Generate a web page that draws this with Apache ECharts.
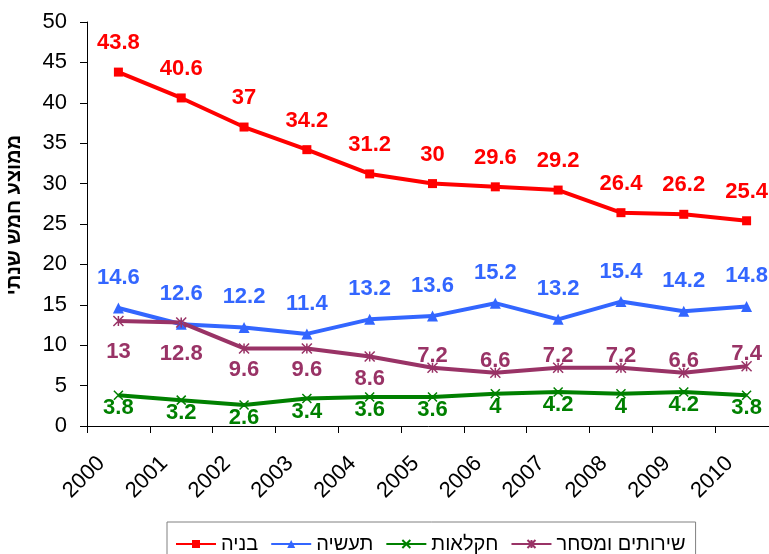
<!DOCTYPE html>
<html>
<head>
<meta charset="utf-8">
<script src="https://cdn.jsdelivr.net/npm/echarts@6/dist/echarts.min.js"></script>
<style>
  html, body { margin: 0; padding: 0; background: #fff; }
  #chart { width: 769px; height: 554px; }
</style>
</head>
<body>
<div id="chart"></div>
<script>
// years on the x axis
const years = ['2000', '2001', '2002', '2003', '2004', '2005', '2006', '2007', '2008', '2009', '2010'];

// five-year averages per sector
const construction = [43.8, 40.6, 37, 34.2, 31.2, 30, 29.6, 29.2, 26.4, 26.2, 25.4];
const industry = [14.6, 12.6, 12.2, 11.4, 13.2, 13.6, 15.2, 13.2, 15.4, 14.2, 14.8];
const agriculture = [3.8, 3.2, 2.6, 3.4, 3.6, 3.6, 4, 4.2, 4, 4.2, 3.8];
const services = [13, 12.8, 9.6, 9.6, 8.6, 7.2, 6.6, 7.2, 7.2, 6.6, 7.4];

const seriesNames = ['בניה', 'תעשיה', 'חקלאות', 'שירותים ומסחר'];
const yTitle = 'ממוצע חמש שנתי';

const FONT = "'Liberation Sans', Arial, sans-serif";

const chart = echarts.init(document.getElementById('chart'));

// label styling shared by all series
const label = (color, dy) => ({
    show: true,
    position: 'inside',
    offset: [0, dy],
    color: color,
    fontFamily: FONT,
    fontSize: 22,
    fontWeight: 'bold'
});

const lineSeries = (name, values, color, symbol, size, dy, extra) => Object.assign({
    name: name,
    type: 'line',
    data: values,
    symbol: symbol,
    symbolSize: size,
    showAllSymbol: true,
    lineStyle: { color: color, width: 4 },
    itemStyle: { color: color },
    label: label(color, dy),
    emphasis: { disabled: true }
}, extra || {});

// services labels: below for the first years, above later
const servicesData = services.map((v, i) => ({
    value: v,
    label: { offset: [0, i < 2 ? 31 : (i < 5 ? 22 : -12)] }
}));

const option = {
    animation: false,
    textStyle: { fontFamily: FONT },
    grid: {
        left: 87,
        top: 22,
        width: 691,
        height: 404,
        outerBoundsMode: 'none'
    },
    legend: {
        data: seriesNames,
        left: 167,
        top: 522,
        padding: [12, 10, 12, 8],
        itemWidth: 40,
        itemHeight: 10,
        itemGap: 12,
        borderColor: '#808080',
        borderWidth: 1,
        textStyle: { fontFamily: FONT, fontSize: 20, color: '#000' }
    },
    xAxis: {
        type: 'category',
        data: years,
        boundaryGap: true,
        axisLine: { lineStyle: { color: '#000', width: 1 } },
        axisTick: { show: true, inside: false, length: 7, lineStyle: { color: '#000' } },
        axisLabel: {
            interval: 0,
            rotate: 45,
            margin: 17,
            padding: [0, 24, 0, 0],
            color: '#000',
            fontFamily: FONT,
            fontSize: 22
        },
        splitLine: { show: false }
    },
    yAxis: {
        type: 'value',
        min: 0,
        max: 50,
        interval: 5,
        name: yTitle,
        nameLocation: 'middle',
        nameRotate: 90,
        nameGap: 63,
        nameTextStyle: {
            fontFamily: FONT,
            fontSize: 20,
            fontWeight: 'bold',
            color: '#000',
            padding: [0, 0, 0, 18]
        },
        axisLine: { show: true, lineStyle: { color: '#000', width: 1 } },
        axisTick: { show: true, inside: false, length: 7, lineStyle: { color: '#000' } },
        axisLabel: { margin: 20, color: '#000', fontFamily: FONT, fontSize: 22 },
        splitLine: { show: false }
    },
    series: [
        lineSeries(seriesNames[0], construction, '#FF0000', 'rect', 9, -29),
        lineSeries(seriesNames[1], industry, '#3366FF', 'triangle', 11, -30),
        lineSeries(seriesNames[2], agriculture, '#008000',
            'path://M0,0L10,10M10,0L0,10', 9, 13,
            { itemStyle: { color: '#008000', borderColor: '#008000', borderWidth: 1.5 } }),
        lineSeries(seriesNames[3], servicesData, '#993366',
            'path://M0,0L10,10M10,0L0,10M5,0L5,10', 10, 0,
            { itemStyle: { color: '#993366', borderColor: '#993366', borderWidth: 1.5 } })
    ]
};

chart.setOption(option);
</script>
</body>
</html>
